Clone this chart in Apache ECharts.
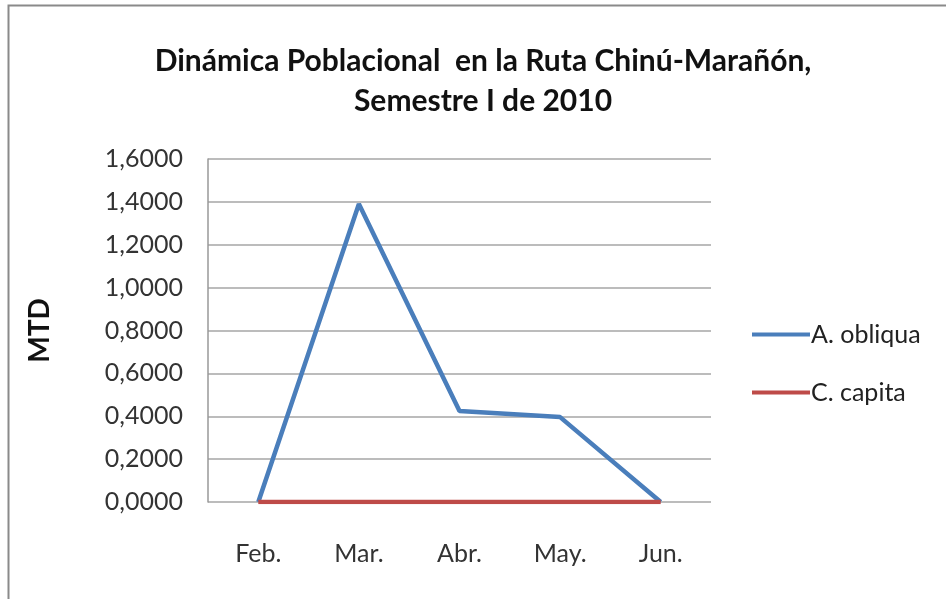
<html>
<head>
    <meta charset="utf-8">
    <title>Dinámica Poblacional</title>
    <script src="https://cdn.jsdelivr.net/npm/echarts@6.0.0/dist/echarts.min.js"></script>
    <style>
        body { margin: 0; background: #fff; }
    </style>
</head>
<body>
<div id="chartmain" style="width:946px; height:599px;"></div>
<script type="text/javascript">
    // datos
    var meses = ['Feb.', 'Mar.', 'Abr.', 'May.', 'Jun.'];
    var aObliqua = [0, 1.39, 0.424, 0.396, 0];
    var cCapita = [0, 0, 0, 0, 0];
    var yTicks = [0, 0.2, 0.4, 0.6, 0.8, 1.0, 1.2, 1.4, 1.6];

    var fuente = 'Lato';
    var myChart = echarts.init(document.getElementById('chartmain'));
    myChart.setOption({
        animation: false,
        backgroundColor: '#fff',
        title: {
            text: 'Dinámica Poblacional  en la Ruta Chinú-Marañón,\nSemestre I de 2010',
            left: 478,
            textAlign: 'center',
            top: 36,
            textStyle: {
                fontFamily: fuente,
                fontWeight: 'bold',
                fontSize: 30,
                lineHeight: 40,
                color: '#111'
            }
        },
        graphic: [{
            type: 'rect',
            shape: { x: 8.5, y: 5.5, width: 1000, height: 1000 },
            style: { fill: 'none', stroke: '#8a8a8a', lineWidth: 2 },
            silent: true
        }],
        legend: {
            orient: 'vertical',
            left: 752,
            top: 322,
            padding: 0,
            itemWidth: 58,
            itemHeight: 4,
            itemGap: 33,
            icon: 'rect',
            textStyle: { fontFamily: fuente, fontSize: 25, color: '#222', padding: [0, 0, 0, -4] },
            data: ['A. obliqua', 'C. capita']
        },
        grid: { left: 208, right: 235, top: 159, bottom: 97 },
        xAxis: {
            type: 'category',
            data: meses,
            boundaryGap: true,
            axisLine: { show: false },
            axisTick: { show: false },
            axisLabel: { margin: 39, fontFamily: fuente, fontSize: 25, color: '#333' }
        },
        yAxis: {
            type: 'value',
            min: 0,
            max: 1.6,
            interval: 0.2,
            name: 'MTD',
            nameLocation: 'middle',
            nameGap: 154,
            nameRotate: 90,
            nameTextStyle: { fontFamily: fuente, fontWeight: 'bold', fontSize: 28, color: '#111' },
            axisLine: { show: true, lineStyle: { color: '#999', width: 1.5 } },
            axisTick: { show: false },
            splitLine: { lineStyle: { color: '#a6a6a6', width: 1.5 } },
            axisLabel: {
                margin: 25,
                fontFamily: fuente,
                fontSize: 25,
                color: '#333',
                formatter: function (v) { return v.toFixed(4).replace('.', ','); }
            }
        },
        series: [{
            name: 'A. obliqua',
            type: 'line',
            data: aObliqua,
            symbol: 'none',
            z: 3,
            lineStyle: { color: '#4a7ebb', width: 4.5 },
            itemStyle: { color: '#4a7ebb' }
        }, {
            name: 'C. capita',
            type: 'line',
            data: cCapita,
            symbol: 'none',
            z: 4,
            lineStyle: { color: '#be4b48', width: 4.5 },
            itemStyle: { color: '#be4b48' }
        }]
    });
</script>
</body>
</html>
